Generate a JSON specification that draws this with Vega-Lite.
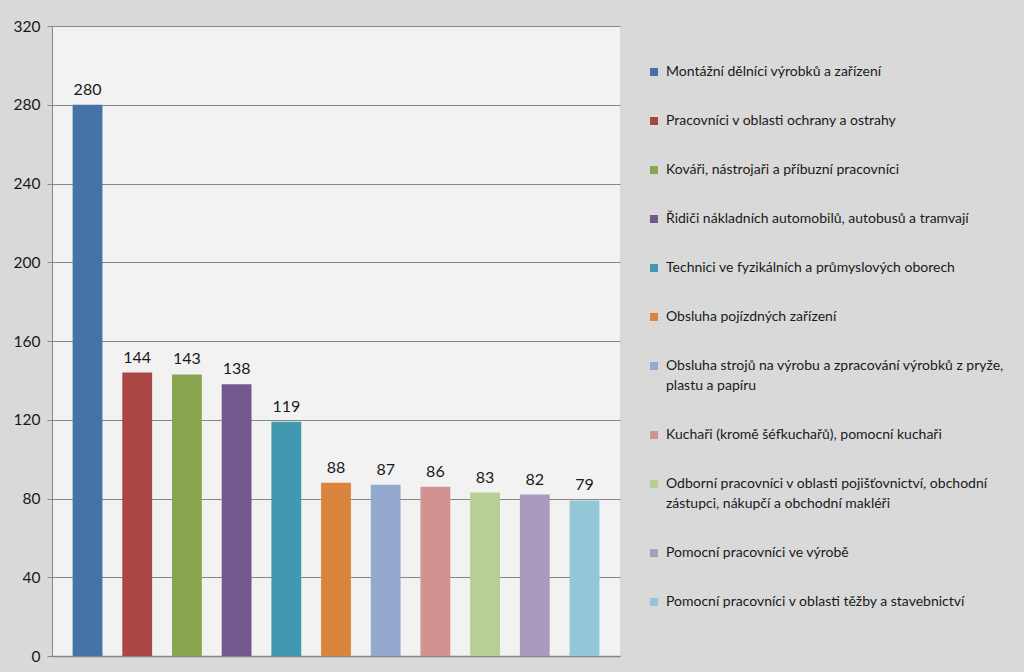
{
  "$schema": "https://vega.github.io/schema/vega-lite/v6.json",
  "autosize": "none",
  "width": 568,
  "height": 630,
  "padding": {"left": 52, "top": 26, "right": 404, "bottom": 16},
  "background": "#d9d9d9",
  "data": {
    "values": [
      {"kategorie": "Montážní dělníci výrobků a zařízení", "pocet": 280},
      {"kategorie": "Pracovníci v oblasti ochrany a ostrahy", "pocet": 144},
      {"kategorie": "Kováři, nástrojaři a příbuzní pracovníci", "pocet": 143},
      {"kategorie": "Řidiči nákladních automobilů, autobusů a tramvají", "pocet": 138},
      {"kategorie": "Technici ve fyzikálních a průmyslových oborech", "pocet": 119},
      {"kategorie": "Obsluha pojízdných zařízení", "pocet": 88},
      {"kategorie": "Obsluha strojů na výrobu a zpracování výrobků z pryže, plastu a papíru", "pocet": 87},
      {"kategorie": "Kuchaři (kromě šéfkuchařů), pomocní kuchaři", "pocet": 86},
      {"kategorie": "Odborní pracovníci v oblasti pojišťovnictví, obchodní zástupci, nákupčí a obchodní makléři", "pocet": 83},
      {"kategorie": "Pomocní pracovníci ve výrobě", "pocet": 82},
      {"kategorie": "Pomocní pracovníci v oblasti těžby a stavebnictví", "pocet": 79}
    ]
  },
  "encoding": {
    "x": {
      "field": "kategorie",
      "type": "nominal",
      "sort": null,
      "scale": {"paddingInner": 0.4, "paddingOuter": 0.415},
      "axis": {"title": null, "labels": false, "ticks": false, "domain": true, "domainColor": "#868686", "domainWidth": 1.5, "grid": false}
    },
    "y": {
      "field": "pocet",
      "type": "quantitative",
      "scale": {"domain": [0, 320], "nice": false},
      "axis": {
        "title": null,
        "values": [0, 40, 80, 120, 160, 200, 240, 280, 320],
        "grid": true,
        "gridColor": "#868686",
        "gridWidth": 1,
        "domainColor": "#868686",
        "domainWidth": 1,
        "tickColor": "#868686",
        "tickSize": 5,
        "labelPadding": 7,
        "labelFont": "Lato",
        "labelFontSize": 15.5,
        "labelColor": "#1a1a1a"
      }
    }
  },
  "layer": [
    {
      "mark": {"type": "bar"},
      "encoding": {
        "color": {
          "field": "kategorie",
          "type": "nominal",
          "scale": {
            "domain": [
              "Montážní dělníci výrobků a zařízení",
              "Pracovníci v oblasti ochrany a ostrahy",
              "Kováři, nástrojaři a příbuzní pracovníci",
              "Řidiči nákladních automobilů, autobusů a tramvají",
              "Technici ve fyzikálních a průmyslových oborech",
              "Obsluha pojízdných zařízení",
              "Obsluha strojů na výrobu a zpracování výrobků z pryže, plastu a papíru",
              "Kuchaři (kromě šéfkuchařů), pomocní kuchaři",
              "Odborní pracovníci v oblasti pojišťovnictví, obchodní zástupci, nákupčí a obchodní makléři",
              "Pomocní pracovníci ve výrobě",
              "Pomocní pracovníci v oblasti těžby a stavebnictví"
            ],
            "range": ["#4572A7", "#AA4643", "#89A54E", "#71588F", "#4198AF", "#DB843D", "#93A9CF", "#D19392", "#B9CD96", "#A99BBD", "#93C6D7"]
          },
          "legend": {
            "title": null,
            "orient": "none",
            "legendX": 595,
            "legendY": 39,
            "symbolType": "square",
            "symbolSize": 64,
            "symbolStrokeWidth": 0,
            "labelOffset": 5,
            "labelFont": "Lato",
            "labelFontSize": 14,
            "labelColor": "#1a1a1a",
            "labelLimit": 400,
            "rowPadding": 35,
            "labelExpr": "datum.label == 'Obsluha strojů na výrobu a zpracování výrobků z pryže, plastu a papíru' ? ['Obsluha strojů na výrobu a zpracování výrobků z pryže,', 'plastu a papíru'] : datum.label == 'Odborní pracovníci v oblasti pojišťovnictví, obchodní zástupci, nákupčí a obchodní makléři' ? ['Odborní pracovníci v oblasti pojišťovnictví, obchodní', 'zástupci, nákupčí a obchodní makléři'] : datum.label"
          }
        }
      }
    },
    {
      "mark": {"type": "text", "baseline": "bottom", "dy": -7, "font": "Lato", "fontSize": 16, "color": "#1a1a1a"},
      "encoding": {
        "text": {"field": "pocet", "type": "quantitative"}
      }
    }
  ],
  "config": {
    "view": {"fill": "#f2f2f2", "stroke": null},
    "style": {"guide-label": {"lineHeight": 20}}
  }
}
